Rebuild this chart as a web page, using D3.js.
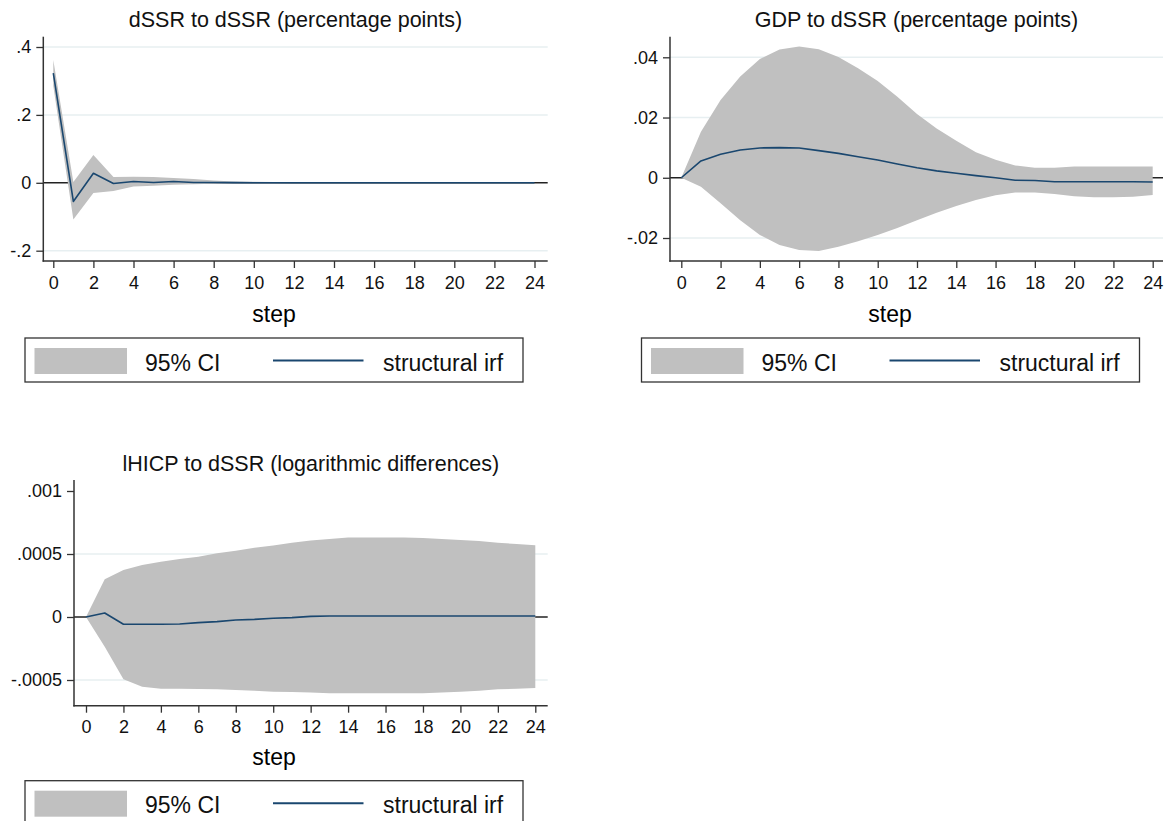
<!DOCTYPE html>
<html>
<head>
<meta charset="utf-8">
<script src="https://cdn.jsdelivr.net/npm/d3@7"></script>
<style>
  body { margin: 0; background: #fff; }
  svg { display: block; }
</style>
</head>
<body>
<svg id="chart" width="1166" height="821"></svg>
<script>
// ---- data -----------------------------------------------------------------
const steps = [0, 1, 2, 3, 4, 5, 6, 7, 8, 9, 10, 11, 12, 13, 14, 15, 16, 17, 18, 19, 20, 21, 22, 23, 24];
const stepTicks = [0, 2, 4, 6, 8, 10, 12, 14, 16, 18, 20, 22, 24];
const xTitle = "step";
const legendLabels = ["95% CI", "structural irf"];

// dSSR response to a dSSR shock
const ssrTitle = "dSSR to dSSR (percentage points)";
const ssrIrf   = [0.323, -0.055, 0.028, -0.002, 0.004, 0.001, 0.004, 0.001, 0.001, 0.0005, 0.0003, 0.0002, 0.0001, 0, 0, 0, 0, 0, 0, 0, 0, 0, 0, 0, 0];
const ssrUpper = [0.362, 0.002, 0.082, 0.017, 0.018, 0.017, 0.014, 0.011, 0.007, 0.004, 0.003, 0.002, 0.001, 0.0005, 0.0003, 0.0002, 0.0002, 0.0001, 0.0001, 0.0001, 0.0001, 0.0001, 0.0001, 0.0001, 0.0001];
const ssrLower = [0.285, -0.108, -0.030, -0.024, -0.011, -0.009, -0.006, -0.004, -0.003, -0.002, -0.001, -0.001, -0.0005, -0.0003, -0.0002, -0.0002, -0.0001, -0.0001, -0.0001, -0.0001, -0.0001, -0.0001, -0.0001, -0.0001, -0.0001];
const ssrTicks = [-0.2, 0, 0.2, 0.4];
const ssrTickLabels = ["-.2", "0", ".2", ".4"];
const ssrGrid = [-0.2, 0.2, 0.4];

// GDP response to a dSSR shock
const gdpTitle = "GDP to dSSR (percentage points)";
const gdpIrf   = [0, 0.0056, 0.0078, 0.0092, 0.0099, 0.0100, 0.0099, 0.0090, 0.0081, 0.0070, 0.0059, 0.0046, 0.0033, 0.0023, 0.0015, 0.0007, 0.0000, -0.0008, -0.0009, -0.0013, -0.0013, -0.0013, -0.0013, -0.0013, -0.0014];
const gdpUpper = [0, 0.0153, 0.0258, 0.0336, 0.0394, 0.0426, 0.0436, 0.0427, 0.0401, 0.0364, 0.0321, 0.0269, 0.0212, 0.0164, 0.0123, 0.0085, 0.0060, 0.0041, 0.0033, 0.0033, 0.0037, 0.0037, 0.0037, 0.0037, 0.0037];
const gdpLower = [0, -0.0030, -0.0085, -0.0141, -0.0190, -0.0223, -0.0240, -0.0243, -0.0229, -0.0211, -0.0190, -0.0167, -0.0141, -0.0116, -0.0094, -0.0074, -0.0058, -0.0049, -0.0049, -0.0054, -0.0061, -0.0065, -0.0065, -0.0063, -0.0057];
const gdpTicks = [-0.02, 0, 0.02, 0.04];
const gdpTickLabels = ["-.02", "0", ".02", ".04"];
const gdpGrid = [-0.02, 0.02, 0.04];

// lHICP response to a dSSR shock
const hicpTitle = "lHICP to dSSR (logarithmic differences)";
const hicpIrf   = [0, 0.000032, -0.000058, -0.000058, -0.000058, -0.000056, -0.000045, -0.000037, -0.000024, -0.000019, -0.000010, -0.000005, 0.000005, 0.000008, 0.000008, 0.000008, 0.000008, 0.000008, 0.000008, 0.000008, 0.000008, 0.000008, 0.000008, 0.000008, 0.000008];
const hicpUpper = [0, 0.000299, 0.000373, 0.000413, 0.000439, 0.000460, 0.000479, 0.000505, 0.000526, 0.000550, 0.000567, 0.000590, 0.000607, 0.000620, 0.000630, 0.000630, 0.000630, 0.000630, 0.000627, 0.000619, 0.000611, 0.000603, 0.000590, 0.000579, 0.000569];
const hicpLower = [0, -0.000236, -0.000495, -0.000553, -0.000569, -0.000569, -0.000572, -0.000574, -0.000580, -0.000585, -0.000593, -0.000595, -0.000600, -0.000606, -0.000606, -0.000606, -0.000606, -0.000606, -0.000606, -0.000600, -0.000593, -0.000585, -0.000574, -0.000569, -0.000563];
const hicpTicks = [-0.0005, 0, 0.0005, 0.001];
const hicpTickLabels = ["-.0005", "0", ".0005", ".001"];
const hicpGrid = [-0.0005, 0.0005];

// ---- styling ----------------------------------------------------------------
const FONT = "'Liberation Sans', Arial, Helvetica, sans-serif";
const TEXT = "#111";
const AXIS = "#333";
const BAND = "#c0c0c0";
const NAVY = "#1a476f";
const GRID = "#e7eff1";

// ---- panel layout ------------------------------------------------------------
const panels = [
  { title: ssrTitle, irf: ssrIrf, upper: ssrUpper, lower: ssrLower,
    ticks: ssrTicks, tickLabels: ssrTickLabels, grid: ssrGrid,
    left: 43.3, right: 547.7, top: 36.7, bottom: 261,
    xStart: 53.3, xEnd: 534.5, yLow: 250.7, yHigh: 47,
    titleY: 27, footCx: 274, stepY: 322, legendX: 25, legendY: 338 },
  { title: gdpTitle, irf: gdpIrf, upper: gdpUpper, lower: gdpLower,
    ticks: gdpTicks, tickLabels: gdpTickLabels, grid: gdpGrid,
    left: 670, right: 1163, top: 36.7, bottom: 261,
    xStart: 681.3, xEnd: 1152.7, yLow: 238, yHigh: 57.3,
    titleY: 27, footCx: 890, stepY: 322, legendX: 641.5, legendY: 338 },
  { title: hicpTitle, irf: hicpIrf, upper: hicpUpper, lower: hicpLower,
    ticks: hicpTicks, tickLabels: hicpTickLabels, grid: hicpGrid,
    left: 74, right: 547.7, top: 480, bottom: 705.7,
    xStart: 86, xEnd: 535.3, yLow: 680, yHigh: 491,
    titleY: 470.7, footCx: 274, stepY: 765, legendX: 25, legendY: 780.7 }
];

const svg = d3.select("#chart");

function drawPanel(p) {
  const g = svg.append("g");

  const x = d3.scaleLinear()
    .domain([steps[0], steps[steps.length - 1]])
    .range([p.xStart, p.xEnd]);
  const y = d3.scaleLinear()
    .domain([p.ticks[0], p.ticks[p.ticks.length - 1]])
    .range([p.yLow, p.yHigh]);

  // horizontal grid lines
  g.append("g").selectAll("line").data(p.grid).join("line")
    .attr("x1", p.left).attr("x2", p.right)
    .attr("y1", d => y(d)).attr("y2", d => y(d))
    .attr("stroke", GRID).attr("stroke-width", 1.5);

  // reference line at zero
  g.append("line")
    .attr("x1", p.left).attr("x2", p.right)
    .attr("y1", y(0)).attr("y2", y(0))
    .attr("stroke", "#222").attr("stroke-width", 1.4);

  // confidence band
  const band = d3.area()
    .x((d, i) => x(steps[i]))
    .y0((d, i) => y(p.lower[i]))
    .y1((d, i) => y(p.upper[i]));
  g.append("path").datum(p.upper)
    .attr("d", band)
    .attr("fill", BAND);

  // impulse response
  const line = d3.line()
    .x((d, i) => x(steps[i]))
    .y(d => y(d));
  g.append("path").datum(p.irf)
    .attr("d", line)
    .attr("fill", "none")
    .attr("stroke", NAVY)
    .attr("stroke-width", 1.6)
    .attr("stroke-linejoin", "round");

  // x axis
  const xAxis = d3.axisBottom(x)
    .tickValues(stepTicks)
    .tickSize(7)
    .tickPadding(8)
    .tickSizeOuter(0)
    .tickFormat(d3.format("d"));
  const gx = g.append("g")
    .attr("transform", `translate(0,${p.bottom})`)
    .call(xAxis);
  gx.select(".domain").remove();
  gx.selectAll(".tick line").attr("stroke", AXIS).attr("stroke-width", 1.3);
  gx.selectAll(".tick text")
    .attr("fill", TEXT).style("font-family", FONT).style("font-size", "18px");
  g.append("line")
    .attr("x1", p.left - 0.7).attr("x2", p.right)
    .attr("y1", p.bottom).attr("y2", p.bottom)
    .attr("stroke", AXIS).attr("stroke-width", 1.5);

  // y axis
  const yAxis = d3.axisLeft(y)
    .tickValues(p.ticks)
    .tickSize(7)
    .tickPadding(5)
    .tickSizeOuter(0)
    .tickFormat((d, i) => p.tickLabels[i]);
  const gy = g.append("g")
    .attr("transform", `translate(${p.left},0)`)
    .call(yAxis);
  gy.select(".domain").remove();
  gy.selectAll(".tick line").attr("stroke", AXIS).attr("stroke-width", 1.3);
  gy.selectAll(".tick text")
    .attr("fill", TEXT).style("font-family", FONT).style("font-size", "18px");
  g.append("line")
    .attr("x1", p.left).attr("x2", p.left)
    .attr("y1", p.top).attr("y2", p.bottom + 0.7)
    .attr("stroke", AXIS).attr("stroke-width", 1.5);

  // panel title
  g.append("text")
    .attr("x", (p.left + p.right) / 2).attr("y", p.titleY)
    .attr("text-anchor", "middle")
    .attr("fill", TEXT)
    .style("font-family", FONT).style("font-size", "21.5px")
    .text(p.title);

  // x axis title
  g.append("text")
    .attr("x", p.footCx).attr("y", p.stepY)
    .attr("text-anchor", "middle")
    .attr("fill", "#000")
    .style("font-family", FONT).style("font-size", "23px")
    .text(xTitle);

  // legend
  const lg = g.append("g").attr("transform", `translate(${p.legendX},${p.legendY})`);
  lg.append("rect")
    .attr("x", 0).attr("y", 0).attr("width", 498).attr("height", 44)
    .attr("fill", "#fff").attr("stroke", AXIS).attr("stroke-width", 1.3);
  lg.append("rect")
    .attr("x", 9.5).attr("y", 10).attr("width", 92.5).attr("height", 26)
    .attr("fill", BAND);
  lg.append("text")
    .attr("x", 120).attr("y", 32.6)
    .attr("fill", TEXT)
    .style("font-family", FONT).style("font-size", "23px")
    .text(legendLabels[0]);
  lg.append("line")
    .attr("x1", 248).attr("x2", 338.5)
    .attr("y1", 22.6).attr("y2", 22.6)
    .attr("stroke", NAVY).attr("stroke-width", 2);
  lg.append("text")
    .attr("x", 358).attr("y", 32.6)
    .attr("fill", TEXT)
    .style("font-family", FONT).style("font-size", "23px")
    .text(legendLabels[1]);
}

panels.forEach(drawPanel);
</script>
</body>
</html>
